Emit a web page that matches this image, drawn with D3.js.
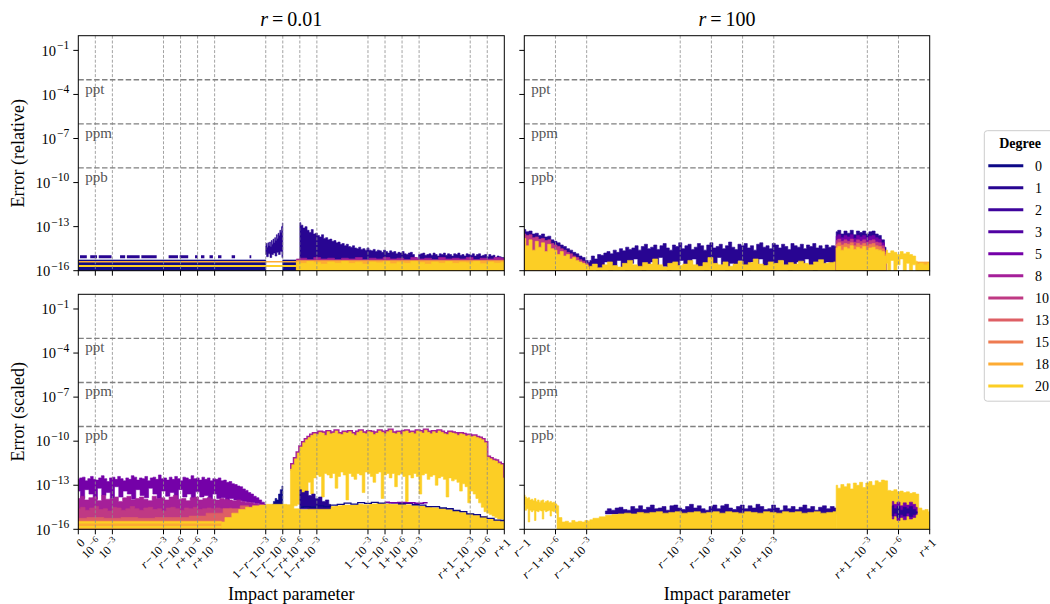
<!DOCTYPE html>
<html>
<head>
<meta charset="utf-8">
<script src="https://cdn.jsdelivr.net/npm/d3@7"></script>
<style>
  body { margin: 0; background: #fff; }
  text { font-family: "Liberation Serif", "DejaVu Serif", serif; }
</style>
</head>
<body>
<svg id="chart" width="1050" height="604"></svg>
<script>
// degrees shown in the legend
const degrees = [0, 1, 2, 3, 5, 8, 10, 13, 15, 18, 20];

// x axis: tick positions in "segment units" and their labels (^ starts a superscript)
const leftTickUnits = [0, 1, 2, 5, 6, 7, 8, 11, 12, 13, 14, 17, 18, 19, 20, 23, 24, 25];
const leftTickLabels = ["0", "10^−6", "10^−3", "r−10^−3", "r−10^−6", "r+10^−6", "r+10^−3",
  "1−r−10^−3", "1−r−10^−6", "1−r+10^−6", "1−r+10^−3", "1−10^−3", "1−10^−6", "1+10^−6", "1+10^−3",
  "r+1−10^−3", "r+1−10^−6", "r+1"];
const rightTickUnits = [0, 1, 2, 5, 6, 7, 8, 11, 12, 13];
const rightTickLabels = ["r−1", "r−1+10^−6", "r−1+10^−3", "r−10^−3", "r−10^−6", "r+10^−6", "r+10^−3",
  "r+1−10^−3", "r+1−10^−6", "r+1"];

// y axis ticks (log10) and reference levels
const yTickExps = [-1, -4, -7, -10, -13, -16];
const refLevels = [-3, -6, -9];
const refNames = ["ppt", "ppm", "ppb"];

// ---- values are log10(error) ----
// top left: r = 0.01, relative
const tlBand = [-15.27, -15.27];
const tlDashSpans = [[0.1, 0.5], [0.7, 1.1], [1.2, 1.95], [2.45, 2.75], [2.85, 3.6], [3.7, 4.6], [5.3, 5.85],
  [5.95, 6.45], [6.85, 7.0], [7.2, 7.4], [7.7, 7.9], [8.2, 8.4], [9.0, 9.2], [10.05, 10.15]];
const tlDashLevel = -15.05;
const tlSpikeHi = [-14.3, -14.15, -14.4, -14.1, -14.3, -14.05, -14.35, -13.95, -14.2, -13.85, -14.1, -13.75,
  -13.95, -13.55, -13.8, -13.45, -13.6, -13.25, -13.4, -13.0, -12.75];
const tlSpikeLo = [-14.9, -15.05, -14.85, -15.1, -14.9, -14.8, -15.0, -14.75, -14.9, -14.7, -15.1];
const tlDecayHi = [-12.73, -12.9, -13.1, -13.0, -13.25, -13.4, -13.2, -13.5, -13.45, -13.6, -13.7, -13.55,
  -13.8, -13.75, -13.9, -13.85, -14.0, -13.95, -14.1, -14.05, -14.2, -14.15, -14.3, -14.2, -14.35, -14.4,
  -14.3, -14.45, -14.5, -14.4, -14.55, -14.5, -14.6, -14.45, -14.6, -14.65, -14.55, -14.7, -14.6, -14.65,
  -14.75, -14.6, -14.7, -14.8, -14.65, -14.75, -14.7, -14.85, -14.75, -14.8, -14.7, -14.85, -14.9, -14.8,
  -14.75, -14.9, -15.1, -15.2, -14.9, -14.85, -14.8, -14.95, -14.9, -14.85, -14.95, -14.8, -14.9, -15.0,
  -14.85, -14.9, -14.8, -14.95, -14.85, -14.9, -15.0, -14.85, -14.9, -14.8, -14.95, -14.9, -15.0, -14.85,
  -14.9, -14.95, -14.85, -15.0, -14.9, -14.85, -15.0, -14.95, -14.9, -15.05, -14.9, -15.0, -14.95, -15.1,
  -15.0, -15.05, -15.1, -15.1];
const tlDeg8Hi = [-15.2, -15.15, -15.25, -15.1, -15.2, -15.15, -15.25, -15.15, -15.2, -15.1, -15.25, -15.15,
  -15.2, -15.1, -15.2, -15.15, -15.25, -15.1, -15.2, -15.15, -15.25, -15.1, -15.2, -15.15, -15.2, -15.1,
  -15.25, -15.15, -15.2, -15.1, -15.15];
const tlDeg18Hi = [-15.3, -15.3];
const tlDeg20Hi = [-15.4, -15.5, -15.38, -15.45, -15.55, -15.4, -15.48, -15.36, -15.5, -15.42, -15.55, -15.4,
  -15.46, -15.38, -15.52, -15.42, -15.5, -15.36, -15.45, -15.55, -15.4, -15.48, -15.38, -15.5, -15.42,
  -15.46, -15.36, -15.52, -15.4, -15.48, -15.42];
const tlDeg18Line = [-15.39, -15.39];
const tlDeg20Line = [-15.68, -15.68];

// bottom left: r = 0.01, scaled
const blDeg5Hi = [-12.6, -12.5, -12.45, -12.7, -12.55, -12.4, -12.6, -12.65, -12.5, -12.35, -12.55, -12.75,
  -12.5, -12.45, -12.6, -12.4, -12.55, -12.7, -12.5, -12.6, -12.35, -12.45, -12.65, -12.5, -12.55, -12.4,
  -12.7, -12.5, -12.45, -12.6, -12.3, -12.55, -12.5, -12.65, -12.45, -12.6, -12.4, -12.55, -12.7, -12.45,
  -12.5, -12.6, -12.35, -12.55, -12.5, -12.65, -12.45, -12.6, -12.5, -12.7, -12.55, -12.6, -12.5, -12.7,
  -12.65, -12.8, -12.75, -12.9, -12.95, -13.05, -13.1, -13.25, -13.35, -13.5, -13.6, -13.75, -13.85, -14.0,
  -14.15, -14.3];
const blDeg5Lo = [-13.4, -13.9, -13.3, -13.6, -13.95, -13.2, -13.7, -13.5, -13.9, -13.1, -13.8, -13.4, -13.6,
  -13.95, -13.3, -13.7, -13.85, -13.2, -13.6, -13.9, -13.4, -13.75, -13.5, -13.95, -13.3, -13.8, -13.6,
  -13.9, -13.45, -13.8, -13.7, -13.95, -13.6, -13.9, -13.85, -14.0, -13.9, -14.0, -14.05, -14.1, -14.15,
  -14.2, -14.25, -14.3, -14.4];
const blDeg8Hi = [-13.9, -13.75, -14.0, -13.85, -13.8, -14.05, -13.7, -13.95, -13.9, -13.8, -14.1, -13.85,
  -13.75, -14.0, -13.9, -13.8, -13.95, -14.05, -13.75, -13.9, -13.85, -14.0, -13.8, -13.7, -13.95, -13.9,
  -14.05, -13.85, -13.8, -14.0, -13.9, -13.85, -13.95, -14.0, -13.9, -13.95, -14.0, -14.05, -14.0, -14.1,
  -14.15, -14.2, -14.25, -14.3, -14.3];
const blDeg10Hi = [-14.6, -14.5, -14.7, -14.55, -14.45, -14.65, -14.6, -14.75, -14.5, -14.55, -14.7, -14.6,
  -14.45, -14.6, -14.7, -14.55, -14.5, -14.65, -14.6, -14.75, -14.55, -14.5, -14.6, -14.7, -14.55, -14.6,
  -14.5, -14.65, -14.6, -14.55, -14.6, -14.55, -14.6, -14.6, -14.55];
const blDeg13Hi = [-15.25, -15.2, -15.25, -15.2, -15.25, -15.2, -15.2, -15.1, -14.9, -14.6, -14.4];
const blDeg18Hi = [-15.45, -15.45];
const blDeg20LineA = [-15.54, -15.54];
const blDeg20LineB = [-15.84, -15.84];
const blSpikeHi = [-14.3, -14.1, -13.9, -14.0, -13.6, -13.3, -13.05];
const blBlockHi = [-11.9, -11.6, -11.2, -10.8, -10.4, -10.1, -9.9, -9.75,
  -9.6, -9.5, -9.55, -9.4, -9.45, -9.6, -9.35, -9.5, -9.45, -9.3, -9.5, -9.55, -9.4, -9.45, -9.35, -9.5,
  -9.6, -9.4, -9.3, -9.45, -9.5, -9.35, -9.4, -9.55, -9.45, -9.3, -9.4, -9.5, -9.35, -9.25, -9.45, -9.5,
  -9.4, -9.55, -9.35, -9.3, -9.45, -9.4, -9.5, -9.3, -9.35, -9.45, -9.25, -9.4, -9.5, -9.35, -9.45, -9.3,
  -9.4, -9.5, -9.55, -9.4, -9.45, -9.5, -9.6, -9.5, -9.55, -9.65, -9.6, -9.7, -9.65, -9.75,
  -9.8, -9.9, -10.1, -11.1, -11.2, -11.3, -11.35, -11.5, -11.6, -12.5];
const blBlockLo = [-14.4, -14.4, -14.4, -14.3, -14.3, -14.2, -13.4, -12.8, -13.6, -12.5,
  -12.3, -12.4, -13.8, -12.2, -12.3, -12.5, -12.2, -13.2, -12.4, -12.1, -12.3, -14.0, -12.2, -12.4, -12.6,
  -12.2, -12.3, -13.5, -12.1, -12.2, -12.4, -12.8, -12.2, -12.1, -13.9, -12.3, -12.2, -12.5, -12.2, -13.1,
  -12.3, -12.2, -12.4, -14.1, -12.3, -12.5, -12.2, -12.4, -13.6, -12.3, -12.2, -12.6, -12.4, -12.3, -13.0,
  -12.5, -12.4, -12.6, -13.8, -12.5, -12.7, -12.6, -12.8, -13.4, -12.9, -13.1, -14.2, -13.4, -13.6, -13.9,
  -14.2, -14.5, -14.8, -14.9, -15.0, -15.1, -15.2, -15.3, -15.3, -15.4];
const blFloorHi = [-15.5, -15.2, -14.9, -14.65, -14.5, -14.4, -14.35, -14.3, -14.3, -14.3, -14.32, -14.6,
  -14.65, -14.55, -14.55, -14.5, -14.45, -14.4, -14.35, -14.35, -14.3, -14.32, -14.28, -14.25, -14.28,
  -14.3, -14.28, -14.32, -14.38, -14.42, -14.48, -14.53, -14.58, -14.65, -14.75, -14.85, -14.95, -15.05,
  -15.15, -15.3, -15.38, -15.45];
const blBlobHi = [-13.3, -13.5, -13.4, -13.7, -13.6, -13.9, -13.8, -14.1, -14.0, -14.3];
const blEdge = [-14.5, -14.45, -14.5, -14.4, -14.45, -14.35, -14.3, -14.22, -14.28, -14.18, -14.24, -14.16,
  -14.22, -14.18, -14.2, -14.26, -14.24, -14.33, -14.36, -14.45, -14.46, -14.55, -14.6, -14.72, -14.8,
  -14.95, -15.0, -15.15, -15.25, -15.38, -15.4];
const blRaised = [-14.15, -14.2, -14.18, -14.2, -14.22, -14.2];

// top right: r = 100, relative
const trStartNavy = [-13.2, -13.35, -13.3, -13.5, -13.45, -13.6, -13.5, -13.7, -13.65, -13.9, -14.0, -14.1,
  -14.25, -14.35, -14.5, -14.6, -14.75, -14.85, -15.0, -15.1, -15.3, -15.45, -15.6];
const trStartMag = [-13.5, -13.6, -13.55, -13.75, -13.7, -13.85, -13.8, -13.95, -13.9, -14.15, -14.25, -14.35,
  -14.5, -14.6, -14.75, -14.85, -15.0, -15.1, -15.25, -15.35, -15.5, -15.65, -15.8];
const trStartYel = [-13.8, -14.3, -13.9, -14.6, -14.0, -14.4, -14.1, -14.7, -14.2, -14.5, -14.6, -14.9, -14.7,
  -15.0, -14.9, -15.2, -15.1, -15.3, -15.4, -15.5, -15.6, -15.75, -15.9];
const trMidHi = [-15.3, -15.0, -15.2, -14.9, -14.95, -14.8, -14.7, -14.85, -14.6, -14.75, -14.5, -14.65,
  -14.4, -14.55, -14.45, -14.3, -14.6, -14.35, -14.2, -14.5, -14.4, -14.25, -14.55, -14.3, -14.15, -14.45,
  -14.6, -14.25, -14.35, -14.1, -14.5, -14.3, -14.2, -14.55, -14.4, -14.15, -14.3, -14.6, -14.25, -14.1,
  -14.45, -14.35, -14.2, -14.5, -14.3, -14.05, -14.4, -14.55, -14.2, -14.3, -14.15, -14.45, -14.3, -14.6,
  -14.2, -14.1, -14.4, -14.3, -14.5, -14.15, -14.25, -14.45, -14.2, -14.35, -14.55, -14.15, -14.3, -14.4,
  -14.2, -14.5, -14.25, -14.35, -14.15, -14.45, -14.3, -14.5, -14.25, -14.4, -14.3, -14.35];
const trMidLo = [-15.9, -15.6, -16, -15.8, -15.4, -16, -15.7, -15.3, -15.9, -16, -15.5, -15.2, -15.8, -16,
  -15.6, -15.4, -15.9, -15.1, -15.7, -16, -15.5, -15.8, -15.3, -16, -15.6, -15.2, -15.9, -15.7, -16, -15.4,
  -15.8, -15.1, -15.6, -16, -15.5, -15.9, -15.3, -15.7, -16, -15.4, -15.8, -15.2, -15.9, -15.6, -16, -15.5,
  -15.3, -15.8, -16, -15.6, -15.4, -15.9, -15.2, -15.7, -16, -15.5, -15.8, -15.4, -15.6, -15.9];
const trMidYel = [-15.7, -15.55, -15.8, -15.6, -15.4, -15.65, -15.75, -15.5, -15.3, -15.6, -15.7, -15.45,
  -15.55, -15.2, -15.6, -15.75, -15.5, -15.4, -15.65, -15.55, -15.3, -15.6, -15.7, -15.45, -15.1, -15.5,
  -15.6, -15.4, -15.7, -15.55, -15.35, -15.6, -15.45, -15.2, -15.55, -15.65, -15.4, -15.5, -15.3, -15.6,
  -15.45, -15.55, -15.35, -15.5, -15.6, -15.4, -15.25, -15.5, -15.45, -15.4];
const trBlkNavy = [-13.35, -13.25, -13.5, -13.3, -13.45, -13.25, -13.55, -13.3, -13.4, -13.3, -13.5, -13.35,
  -13.3, -13.5, -13.6, -13.9, -14.4];
const trBlkPur = [-13.65, -13.55, -13.75, -13.6, -13.7, -13.55, -13.8, -13.6, -13.7, -13.6, -13.75, -13.65,
  -13.6, -13.75, -13.85, -14.1, -14.6];
const trBlkMag = [-13.95, -13.85, -14.0, -13.9, -14.0, -13.85, -14.05, -13.9, -14.0, -13.9, -14.05, -13.95,
  -13.9, -14.05, -14.1, -14.3, -14.75];
const trBlkOra = [-14.2, -14.1, -14.25, -14.15, -14.2, -14.1, -14.3, -14.15, -14.25, -14.15, -14.3, -14.2,
  -14.15, -14.3, -14.35, -14.5, -14.9];
const trBlkYel = [-14.45, -14.35, -14.6, -14.4, -14.5, -14.3, -14.55, -14.4, -14.5, -14.35, -14.6, -14.45,
  -14.4, -14.55, -14.6, -14.7, -15.0];
const trTailHi = [-14.6, -14.8, -14.65, -14.75, -14.9, -14.7, -14.85, -14.75, -14.9, -15.0, -15.35];
const trTailLo = [-15.5, -16, -15.3, -16, -15.6, -15.2, -16, -15.5, -16, -15.6, -16];
const trEndOra = [-15.4, -15.4];
const trEndYel = [-15.55, -15.5, -15.6, -15.5];

// bottom right: r = 100, scaled
const brStartHi = [-13.66, -13.8, -13.9, -13.85, -14.0, -13.95, -14.05, -13.9, -14.1, -14.0, -14.15, -14.05,
  -14.0, -14.2, -14.1, -14.05, -14.15, -14.1, -14.2, -14.15, -14.25, -14.3];
const brStartLo = [-14.3, -14.7, -14.6, -15.5, -14.7, -14.8, -14.7, -15.4, -14.75, -14.8, -14.7, -14.75,
  -15.3, -14.7, -14.8, -14.75, -14.7, -15.1, -14.75, -14.8, -14.7, -14.9];
const brDropHi = [-14.4, -15.2, -15.5, -15.45, -15.55, -15.4, -15.5, -15.45, -15.5, -15.4, -15.45];
const brNavyHi = [-14.75, -14.6, -14.7, -14.55, -14.5, -14.65, -14.7, -14.45, -14.6, -14.4, -14.65, -14.5,
  -14.35, -14.6, -14.55, -14.45, -14.7, -14.4, -14.35, -14.55, -14.65, -14.45, -14.3, -14.55, -14.4,
  -14.6, -14.7, -14.45, -14.35, -14.6, -14.4, -14.3, -14.55, -14.65, -14.45, -14.35, -14.6, -14.4, -14.55,
  -14.3, -14.45, -14.65, -14.6, -14.35, -14.55, -14.7, -14.4, -14.6, -14.45, -14.65, -14.5, -14.35, -14.6,
  -14.45, -14.7, -14.5, -14.4, -14.6, -14.45, -14.55];
const brMainHi = [-15.35, -15.25, -15.15, -15.05, -15.0, -14.95, -14.9, -14.95, -14.85, -14.9, -14.85, -14.8,
  -14.9, -14.85, -14.8, -14.9, -14.85, -14.8, -14.9, -14.85, -14.8, -14.9, -14.8, -14.85, -14.9, -14.8,
  -14.85, -14.9, -14.8, -14.85, -14.9, -14.8, -14.85, -14.8, -14.9, -14.85, -14.8, -14.9, -14.85, -14.8];
const brBlockHi = [-13.0, -13.2, -12.95, -13.1, -12.9, -13.25, -12.85, -13.0, -12.8, -13.15, -12.85, -12.75,
  -13.0, -12.7, -12.8, -12.65, -12.7, -13.35, -13.4, -13.3, -13.45, -13.4, -13.5, -13.45, -13.55, -13.5,
  -13.6, -14.55, -14.7, -14.65, -14.8];
const brBlobPurHi = [-14.1, -14.3, -14.15, -14.4, -14.2, -14.35, -14.15, -14.3, -14.5];
const brBlobPurLo = [-15.3, -15.1, -15.4, -15.2, -15.35, -15.1, -15.3, -15.2, -15.0];
const brBlobNavyHi = [-14.4, -14.6, -14.45, -14.7, -14.5, -14.6, -14.45, -14.65, -14.8];
const brBlobNavyLo = [-15.1, -14.9, -15.2, -15.0, -15.1, -14.9, -15.15, -15.0, -14.9];

// layer tables (drawing order), built from the arrays above
const layersTL = [
  {deg: 0, x: [0, 11.0], hi: tlBand, lo: -16},
  {deg: 0, x: [12.0, 12.8], hi: tlBand, lo: -16},
  {deg: 1, dash: tlDashSpans, level: tlDashLevel},
  {deg: 1, x: [11.0, 12.0], hi: tlSpikeHi, lo: tlSpikeLo},
  {deg: 1, x: [13.0, 25.0], hi: tlDecayHi, lo: -15.25},
  {deg: 8, x: [12.8, 25.0], hi: tlDeg8Hi, lo: -16},
  {deg: 18, x: [12.8, 25.0], hi: tlDeg18Hi, lo: -16},
  {deg: 20, x: [12.8, 25.0], hi: tlDeg20Hi, lo: -16},
  {deg: 18, line: true, x: [0, 12.8], hi: tlDeg18Line, w: 1.5},
  {deg: 20, line: true, x: [0, 12.8], hi: tlDeg20Line, w: 2}
];
const layersBL = [
  {deg: 5, x: [0, 11.0], hi: blDeg5Hi, lo: blDeg5Lo},
  {deg: 8, x: [0, 10.9], hi: blDeg8Hi, lo: -16},
  {deg: 10, x: [0, 9.0], hi: blDeg10Hi, lo: -16},
  {deg: 13, x: [0, 10.0], hi: blDeg13Hi, lo: -16},
  {deg: 18, x: [0, 8.4], hi: blDeg18Hi, lo: -16},
  {deg: 20, line: true, x: [0, 8.4], hi: blDeg20LineA, w: 2},
  {deg: 20, line: true, x: [0, 8.4], hi: blDeg20LineB, w: 2},
  {deg: 0, x: [11.4, 12.0], hi: blSpikeHi, lo: -14.4},
  {deg: 8, line: true, x: [12.45, 25.0], hi: blBlockHi, w: 3.5},
  {deg: 20, x: [12.45, 25.0], hi: blBlockHi, lo: blBlockLo},
  {deg: 20, x: [8.4, 25.0], hi: blFloorHi, lo: -16},
  {deg: 1, x: [13.0, 14.8], hi: blBlobHi, lo: -14.6},
  {deg: 0, line: true, x: [13.0, 25.0], hi: blEdge, w: 1.3},
  {deg: 5, line: true, x: [18.0, 20.5], hi: blRaised, w: 1.5}
];
const layersTR = [
  {deg: 1, x: [0, 2.2], hi: trStartNavy, lo: -16},
  {deg: 10, x: [0, 2.2], hi: trStartMag, lo: -16},
  {deg: 20, x: [0, 2.2], hi: trStartYel, lo: -16},
  {deg: 1, x: [2.1, 10.0], hi: trMidHi, lo: trMidLo},
  {deg: 20, x: [2.1, 10.0], hi: trMidYel, lo: -16},
  {deg: 1, x: [10.0, 11.6], hi: trBlkNavy, lo: -16},
  {deg: 5, x: [10.0, 11.6], hi: trBlkPur, lo: -16},
  {deg: 10, x: [10.0, 11.6], hi: trBlkMag, lo: -16},
  {deg: 15, x: [10.0, 11.6], hi: trBlkOra, lo: -16},
  {deg: 20, x: [10.0, 11.6], hi: trBlkYel, lo: -16},
  {deg: 20, x: [11.6, 12.6], hi: trTailHi, lo: trTailLo},
  {deg: 18, x: [12.6, 13.0], hi: trEndOra, lo: -16},
  {deg: 20, x: [12.6, 13.0], hi: trEndYel, lo: -16}
];
const layersBR = [
  {deg: 20, x: [0, 1.05], hi: brStartHi, lo: brStartLo},
  {deg: 20, x: [1.05, 2.1], hi: brDropHi, lo: -16},
  {deg: 1, x: [2.6, 10.0], hi: brNavyHi, lo: -14.95},
  {deg: 20, x: [2.1, 10.0], hi: brMainHi, lo: -16},
  {deg: 20, x: [10.0, 13.0], hi: brBlockHi, lo: -16},
  {deg: 5, x: [11.8, 12.6], hi: brBlobPurHi, lo: brBlobPurLo},
  {deg: 1, x: [11.8, 12.6], hi: brBlobNavyHi, lo: brBlobNavyLo}
];

const color = d => d3.interpolatePlasma(d / 20 * 0.9);
const svg = d3.select("#chart");

const L = {x0: 78.3, x1: 504.3}, R = {x0: 524.3, x1: 929.7};
const T = {y0: 35.7, y1: 270.7}, B = {y0: 294.3, y1: 529.3};

const panels = [
  {id: "tl", h: L, v: T, units: 25, ticks: leftTickUnits, layers: layersTL, yLabels: true, xLabels: null},
  {id: "tr", h: R, v: T, units: 13, ticks: rightTickUnits, layers: layersTR, yLabels: false, xLabels: null},
  {id: "bl", h: L, v: B, units: 25, ticks: leftTickUnits, layers: layersBL, yLabels: true, xLabels: leftTickLabels},
  {id: "br", h: R, v: B, units: 13, ticks: rightTickUnits, layers: layersBR, yLabels: false, xLabels: rightTickLabels}
];

// mathtext-like label: italic r, spaced binary operators, trailing superscript
function writeMath(sel, str, supSize, opSpace) {
  const parts = str.split("^");
  [...parts[0]].forEach((ch, i) => {
    let s = ch;
    if (opSpace && i > 0 && (ch === "−" || ch === "+")) s = "\u200A" + ch + "\u200A";
    const t = sel.append("tspan").text(s);
    if (ch === "r") t.attr("font-style", "italic");
  });
  if (parts.length > 1) {
    sel.append("tspan").attr("dy", -supSize * 0.55).attr("dx", 1)
      .attr("font-size", supSize).text(parts[1]);
  }
}

const pow = v => Math.pow(10, v);

panels.forEach(p => {
  const x = d3.scaleLinear().domain([0, p.units]).range([p.h.x0, p.h.x1]);
  const y = d3.scaleLog().domain([1e-16, 1]).range([p.v.y1, p.v.y0]);
  const g = svg.append("g");

  svg.append("clipPath").attr("id", "clip-" + p.id)
    .append("rect").attr("x", p.h.x0).attr("y", p.v.y0)
    .attr("width", p.h.x1 - p.h.x0).attr("height", p.v.y1 - p.v.y0);

  const data = g.append("g").attr("clip-path", `url(#clip-${p.id})`);
  const line = d3.line();
  const stepLine = d3.line().curve(d3.curveStep);

  p.layers.forEach(ly => {
    const c = color(ly.deg);
    if (ly.dash) {
      ly.dash.forEach(s => {
        data.append("path")
          .attr("d", line([[x(s[0]), y(pow(ly.level))], [x(s[1]), y(pow(ly.level))]]))
          .attr("stroke", c).attr("stroke-width", 3).attr("fill", "none");
      });
      return;
    }
    const ix = d3.scaleLinear().domain([0, ly.hi.length - 1]).range(ly.x);
    const top = ly.hi.map((v, i) => [x(ix(i)), y(pow(v))]);
    if (ly.line) {
      data.append("path").attr("d", stepLine(top))
        .attr("stroke", c).attr("stroke-width", ly.w).attr("fill", "none");
      return;
    }
    let bottom;
    if (Array.isArray(ly.lo)) {
      const jx = d3.scaleLinear().domain([0, ly.lo.length - 1]).range(ly.x);
      bottom = ly.lo.map((v, i) => [x(jx(i)), y(pow(v))]).reverse();
    } else {
      bottom = [[x(ly.x[1]), y(pow(ly.lo))], [x(ly.x[0]), y(pow(ly.lo))]];
    }
    data.append("path").attr("d", stepLine(top) + "L" + stepLine(bottom).slice(1) + "Z")
      .attr("fill", c).attr("stroke", c).attr("stroke-width", 0.6);
  });

  // vertical grid at the inner ticks
  p.ticks.slice(1, -1).forEach(u => {
    g.append("line").attr("x1", x(u)).attr("x2", x(u))
      .attr("y1", p.v.y0).attr("y2", p.v.y1)
      .attr("stroke", "#8c8c8c").attr("stroke-width", 0.8).attr("stroke-dasharray", "3,1.8");
  });

  // reference levels
  refLevels.forEach((e, i) => {
    g.append("line").attr("x1", p.h.x0).attr("x2", p.h.x1)
      .attr("y1", y(pow(e))).attr("y2", y(pow(e)))
      .attr("stroke", "#808080").attr("stroke-width", 1.4).attr("stroke-dasharray", "5.5,2.4");
    g.append("text").attr("x", p.h.x0 + 7).attr("y", y(pow(e)) + 13.8)
      .attr("font-size", 15).attr("fill", "#555").text(refNames[i]);
  });

  // frame
  g.append("rect").attr("x", p.h.x0).attr("y", p.v.y0)
    .attr("width", p.h.x1 - p.h.x0).attr("height", p.v.y1 - p.v.y0)
    .attr("fill", "none").attr("stroke", "#000").attr("stroke-width", 1);

  // y ticks
  yTickExps.forEach(e => {
    const yy = y(pow(e));
    g.append("line").attr("x1", p.h.x0 - 5).attr("x2", p.h.x0).attr("y1", yy).attr("y2", yy)
      .attr("stroke", "#000").attr("stroke-width", 1);
    if (p.yLabels) {
      const t = g.append("text").attr("x", p.h.x0 - 9).attr("y", yy).attr("dy", "0.36em")
        .attr("text-anchor", "end").attr("font-size", 14.5);
      writeMath(t, "10^−" + Math.abs(e), 11.5, false);
    }
  });

  // x ticks
  p.ticks.forEach((u, i) => {
    g.append("line").attr("x1", x(u)).attr("x2", x(u)).attr("y1", p.v.y1).attr("y2", p.v.y1 + 5)
      .attr("stroke", "#000").attr("stroke-width", 1);
    if (p.xLabels) {
      const t = g.append("text")
        .attr("transform", `translate(${x(u) + 1},${p.v.y1 + 8}) rotate(-45)`)
        .attr("text-anchor", "end").attr("dy", "0.72em").attr("font-size", 12);
      writeMath(t, p.xLabels[i], 9, true);
    }
  });
});

// titles and axis labels
function title(cx, value) {
  const t = svg.append("text").attr("x", cx).attr("y", 26).attr("text-anchor", "middle").attr("font-size", 20);
  t.append("tspan").attr("font-style", "italic").text("r");
  t.append("tspan").text("\u2009=\u2009" + value);
}
title((L.x0 + L.x1) / 2, "0.01");
title((R.x0 + R.x1) / 2, "100");

[["Error (relative)", (T.y0 + T.y1) / 2], ["Error (scaled)", (B.y0 + B.y1) / 2]].forEach(([s, cy]) => {
  svg.append("text").attr("transform", `translate(24,${cy}) rotate(-90)`)
    .attr("text-anchor", "middle").attr("font-size", 18).text(s);
});
[L, R].forEach(h => {
  svg.append("text").attr("x", (h.x0 + h.x1) / 2).attr("y", 600)
    .attr("text-anchor", "middle").attr("font-size", 18).text("Impact parameter");
});

// legend
const lg = svg.append("g");
lg.append("rect").attr("x", 984.3).attr("y", 130.7).attr("width", 80).attr("height", 270.5)
  .attr("rx", 3).attr("fill", "#fff").attr("stroke", "#ccc").attr("stroke-width", 1);
lg.append("text").attr("x", 1020).attr("y", 148).attr("text-anchor", "middle")
  .attr("font-size", 14).attr("font-weight", "bold").text("Degree");
degrees.forEach((d, i) => {
  const yy = 165.7 + i * 22.03;
  lg.append("line").attr("x1", 988.3).attr("x2", 1023.3).attr("y1", yy).attr("y2", yy)
    .attr("stroke", color(d)).attr("stroke-width", 3);
  lg.append("text").attr("x", 1035).attr("y", yy + 5).attr("font-size", 14).text(d);
});
</script>
</body>
</html>
